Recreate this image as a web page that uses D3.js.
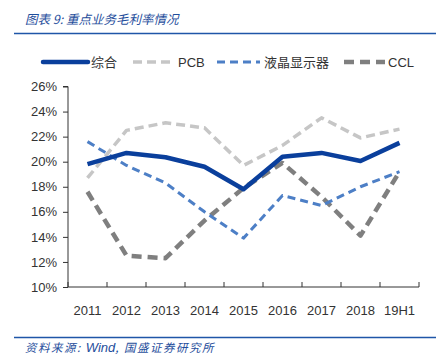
<!DOCTYPE html>
<html><head><meta charset="utf-8">
<script src="https://cdn.jsdelivr.net/npm/d3@7/dist/d3.min.js"></script>
<style>body{margin:0;background:#fff}</style>
</head><body>
<script>
const categories = ["2011","2012","2013","2014","2015","2016","2017","2018","19H1"];
const zonghe = [19.8,20.7,20.35,19.6,17.8,20.4,20.7,20.05,21.5];
const pcb = [18.7,22.5,23.1,22.7,19.7,21.3,23.5,21.9,22.6];
const lcd = [21.6,19.7,18.3,16.0,13.9,17.3,16.5,18.0,19.2];
const ccl = [17.6,12.5,12.3,15.3,17.9,19.9,17.2,14.1,19.2];
const yTicks = [10,12,14,16,18,20,22,24,26];
const seriesNames = ["综合","PCB","液晶显示器","CCL"];

const W=442,H=360;
const svg=d3.select("body").append("svg").attr("width",W).attr("height",H);
const font="'Liberation Sans', Arial, 'Noto Sans CJK SC', sans-serif";
const titleBlue="#1f4e9c";

// header
svg.append("text").attr("x",25).attr("y",24).attr("font-family","'Noto Sans CJK SC', sans-serif")
  .attr("font-size",12.5).attr("font-style","italic").attr("fill",titleBlue).text("图表 9:  重点业务毛利率情况");
svg.append("line").attr("x1",14).attr("x2",436).attr("y1",33.5).attr("y2",33.5).attr("stroke","#1f56a8").attr("stroke-width",1.5);
svg.append("line").attr("x1",14).attr("x2",436).attr("y1",337.5).attr("y2",337.5).attr("stroke","#1f56a8").attr("stroke-width",1.5);
const src=svg.append("text").attr("x",25).attr("y",352).attr("font-family","'Noto Sans CJK SC', sans-serif")
  .attr("font-size",11.5).attr("font-style","italic").attr("fill",titleBlue);
src.append("tspan").attr("letter-spacing",1.5).text("资料来源:  ");
src.append("tspan").attr("font-family","'Liberation Sans', Arial, sans-serif").attr("font-size",13).text("Wind");
src.append("tspan").attr("letter-spacing",1.5).text(",  国盛证券研究所");

const x=d3.scaleBand().domain(categories).range([68,419]);
const y=d3.scaleLinear().domain([10,26]).range([287,86.5]);

const yAxis=svg.append("g").attr("transform","translate(68,0)")
  .call(d3.axisLeft(y).tickValues(yTicks).tickSize(5).tickFormat(d=>d+"%"));
const xAxis=svg.append("g").attr("transform","translate(0,287)")
  .call(d3.axisBottom(x).tickSize(5).tickSizeOuter(5));
xAxis.selectAll(".tick line").remove();
xAxis.selectAll(".tick").select("text").attr("dy","1.5em");
const bounds=categories.map(c=>x(c)).concat([x.range()[1]]);
xAxis.selectAll(".bt").data(bounds).enter().append("line")
  .attr("x1",d=>d).attr("x2",d=>d).attr("y1",0).attr("y2",-5).attr("stroke","#333");
xAxis.select(".domain").attr("d","M68,0H419");
yAxis.select(".domain").attr("d","M-5,"+y(26)+"H0V"+y(10));
[xAxis,yAxis].forEach(g=>{
  g.selectAll("text").attr("font-family",font).attr("font-size",13).attr("fill","#333");
  g.selectAll("line").attr("stroke","#333");
  g.select(".domain").attr("stroke","#333");
});
yAxis.selectAll(".tick text").attr("x",-11);

const styles=[
  {data:zonghe,color:"#0a3f9c",w:4.5,dash:null},
  {data:pcb,color:"#c6c6c6",w:3.5,dash:"9,5"},
  {data:lcd,color:"#4d7fc6",w:3,dash:"8,5"},
  {data:ccl,color:"#7f7f7f",w:4.5,dash:"10,6"}
];
const line=d3.line().x((d,i)=>x(categories[i])+x.bandwidth()/2).y(d=>y(d));
[3,1,2,0].forEach(k=>{
  const s=styles[k];
  svg.append("path").attr("d",line(s.data)).attr("fill","none").attr("stroke",s.color)
    .attr("stroke-width",s.w).attr("stroke-dasharray",s.dash).attr("stroke-linejoin","round");
});

const leg=[{x1:43,x2:88,tx:91},{x1:133,x2:175,tx:178},{x1:217,x2:260,tx:264},{x1:344,x2:385,tx:388}];
leg.forEach((l,k)=>{
  const s=styles[k];
  svg.append("line").attr("x1",l.x1).attr("x2",l.x2).attr("y1",62).attr("y2",62)
    .attr("stroke",s.color).attr("stroke-width",s.w).attr("stroke-dasharray",s.dash).attr("stroke-linecap",k==0?"round":null);
  svg.append("text").attr("x",l.tx).attr("y",66.5).attr("font-family",font).attr("font-size",13)
    .attr("fill","#333").text(seriesNames[k]);
});
</script>
</body></html>
